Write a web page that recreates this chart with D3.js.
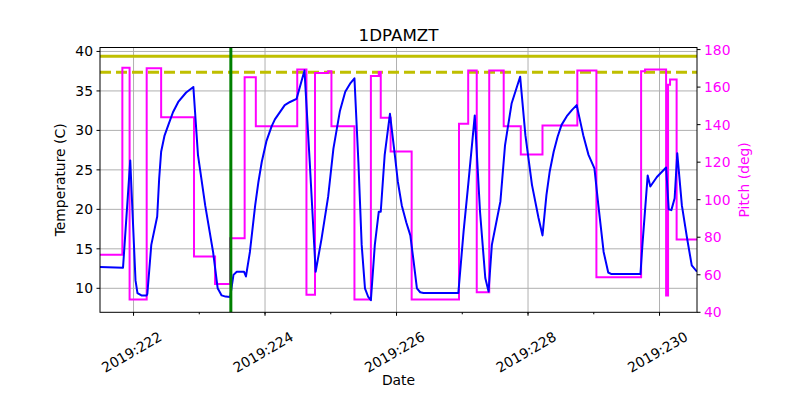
<!DOCTYPE html>
<html>
<head>
<meta charset="utf-8">
<script src="https://cdn.jsdelivr.net/npm/d3@7"></script>
<style>
body{margin:0;background:#fff;}
svg{display:block;font-family:"DejaVu Sans",sans-serif;}
</style>
</head>
<body>
<svg id="chart" width="800" height="400"></svg>
<script>
// ---- data ----
const title = "1DPAMZT";
const tempTime = [221.49,221.84,221.95,222.03,222.06,222.12,222.20,222.21,222.27,222.36,222.39,222.42,222.47,222.53,222.60,222.68,222.80,222.91,
  222.98,223.09,223.21,223.28,223.34,223.40,223.47,223.52,223.57,223.68,223.71,223.77,223.85,223.90,223.95,224.02,224.10,224.15,224.20,224.30,224.38,224.48,224.60,
  224.68,224.77,224.86,224.96,225.04,225.14,225.22,225.30,225.36,225.42,225.47,225.52,225.57,225.61,225.67,225.73,225.76,225.82,225.90,225.98,226.02,226.08,
  226.15,226.21,226.26,226.31,226.36,226.41,226.94,227.02,227.09,227.19,227.27,227.35,227.40,227.45,227.58,227.65,227.75,227.88,227.96,228.06,228.16,
  228.22,228.28,228.33,228.39,228.45,228.51,228.59,228.67,228.74,228.84,228.92,229.01,229.07,229.15,229.22,229.27,229.71,229.74,229.82,229.86,229.96,230.10,230.14,
  230.18,230.23,230.27,230.34,230.42,230.49,230.57];
const tempValue = [12.7,12.6,26.2,11.0,9.4,9.1,9.1,9.3,15.5,19.1,23.9,27.3,29.3,30.7,32.3,33.6,34.8,35.5,
  26.9,20.5,14.6,10.0,9.1,8.95,8.9,11.7,12.1,12.1,11.5,14.6,20.5,23.5,26.0,28.6,30.5,31.4,32.0,33.2,33.6,34.0,37.6,
  26.0,12.1,16.3,21.6,27.7,32.5,34.9,36.0,36.6,26.0,15.5,10.0,8.9,8.5,15.5,19.7,19.7,26.9,32.1,26.5,23.5,20.5,
  18.3,16.7,13.4,10.0,9.5,9.4,9.4,17.2,23.1,31.9,19.7,11.3,9.6,15.5,21.0,28.1,33.4,36.8,29.4,23.1,18.9,
  16.7,21.8,24.8,27.3,29.2,30.7,31.8,32.6,33.2,29.4,26.9,25.2,20.5,14.6,12.0,11.8,11.8,15.5,24.3,22.9,24.1,25.3,20.0,
  19.9,21.4,27.1,20.5,16.3,12.9,12.1];
const pitchTime = [221.49,221.83,221.94,222.20,222.42,222.92,223.24,223.47,223.69,223.86,224.49,224.63,224.76,224.96,225.01,225.36,
  225.61,225.73,225.76,225.91,226.23,226.95,227.09,227.22,227.41,227.63,227.89,228.22,228.75,229.04,229.72,229.78,230.10,230.13,
  230.16,230.26,230.57];
const pitchValue = [70.6,170.3,46.8,170.1,144.0,69.7,55.1,79.5,165.3,139.2,169.4,49.3,167.5,168.5,139.2,46.8,
  165.9,168.0,143.7,125.7,46.8,140.5,168.9,50.7,168.9,139.2,124.1,139.6,168.9,58.7,168.4,169.4,48.9,161.3,
  164.0,78.8,78.8];
const limitSolid = 39.4;
const limitDashed = 37.35;
const markerTime = 223.48;
const xMajorTicks = [222,224,226,228,230];
const xMinorTicks = [222,223,224,225,226,227,228,229,230];
const tempTicks = [10,15,20,25,30,35,40];
const pitchTicks = [40,60,80,100,120,140,160,180];

// ---- layout ----
const L = 100, R = 697, T = 47.5, B = 312.3;
const svg = d3.select("#chart");
const x = d3.scaleLinear().domain([221.49, 230.57]).range([L, R]);
const yT = d3.scaleLinear().domain([6.96, 40.5]).range([B, T]);
const yP = d3.scaleLinear().domain([40, 181.1]).range([B, T]);
const fs = 13.9;

svg.append("defs").append("clipPath").attr("id","clip")
  .append("rect").attr("x",L).attr("y",T).attr("width",R-L).attr("height",B-T);

// grid
const grid = svg.append("g").attr("stroke","#b0b0b0").attr("stroke-width",1);
xMajorTicks.forEach(d => grid.append("line").attr("x1",x(d)).attr("x2",x(d)).attr("y1",T).attr("y2",B));
tempTicks.forEach(d => grid.append("line").attr("x1",L).attr("x2",R).attr("y1",yT(d)).attr("y2",yT(d)));

const plot = svg.append("g").attr("clip-path","url(#clip)");
plot.append("line").attr("x1",L).attr("x2",R).attr("y1",yT(limitSolid)).attr("y2",yT(limitSolid))
  .attr("stroke","#bfbf00").attr("stroke-width",3);
plot.append("line").attr("x1",L).attr("x2",R).attr("y1",yT(limitDashed)).attr("y2",yT(limitDashed))
  .attr("stroke","#bfbf00").attr("stroke-width",3).attr("stroke-dasharray","11,5");

const pitchData = pitchTime.map((t,i)=>[t,pitchValue[i]]);
plot.append("path").datum(pitchData)
  .attr("d", d3.line().x(d=>x(d[0])).y(d=>yP(d[1])).curve(d3.curveStepAfter))
  .attr("fill","none").attr("stroke","#ff00ff").attr("stroke-width",2);

const tempData = tempTime.map((t,i)=>[t,tempValue[i]]);
plot.append("path").datum(tempData)
  .attr("d", d3.line().x(d=>x(d[0])).y(d=>yT(d[1])))
  .attr("fill","none").attr("stroke","#0000ff").attr("stroke-width",2).attr("stroke-linejoin","round");

plot.append("line").attr("x1",x(markerTime)).attr("x2",x(markerTime)).attr("y1",T).attr("y2",B)
  .attr("stroke","#008000").attr("stroke-width",3);

// spines
svg.append("rect").attr("x",L).attr("y",T).attr("width",R-L).attr("height",B-T)
  .attr("fill","none").attr("stroke","#000").attr("stroke-width",1);

// x ticks
const xt = svg.append("g");
xMinorTicks.forEach(d => xt.append("line").attr("x1",x(d)).attr("x2",x(d)).attr("y1",B).attr("y2",B+2).attr("stroke","#000"));
xMajorTicks.forEach(d => {
  xt.append("line").attr("x1",x(d)).attr("x2",x(d)).attr("y1",B).attr("y2",B+3.5).attr("stroke","#000");
  xt.append("text").attr("transform",`translate(${x(d)-2},${352}) rotate(-30)`)
    .attr("text-anchor","middle").attr("dominant-baseline","central")
    .attr("font-size",fs).attr("fill","#000").text("2019:" + d);
});

// left ticks
const yl = svg.append("g");
tempTicks.forEach(d => {
  yl.append("line").attr("x1",L-3.5).attr("x2",L).attr("y1",yT(d)).attr("y2",yT(d)).attr("stroke","#000");
  yl.append("text").attr("x",L-7).attr("y",yT(d)).attr("text-anchor","end").attr("dominant-baseline","central")
    .attr("font-size",fs).attr("fill","#000").text(d);
});
// right ticks
const yr = svg.append("g");
pitchTicks.forEach(d => {
  yr.append("line").attr("x1",R).attr("x2",R+3.5).attr("y1",yP(d)).attr("y2",yP(d)).attr("stroke","#000");
  yr.append("text").attr("x",R+7).attr("y",yP(d)).attr("text-anchor","start").attr("dominant-baseline","central")
    .attr("font-size",fs).attr("fill","#ff00ff").text(d);
});

// labels
svg.append("text").attr("x",(L+R)/2).attr("y",41).attr("text-anchor","middle").attr("font-size",16.7).attr("fill","#000").text(title);
svg.append("text").attr("x",(L+R)/2).attr("y",385).attr("text-anchor","middle").attr("font-size",fs).attr("fill","#000").text("Date");
svg.append("text").attr("transform",`translate(60,${(T+B)/2}) rotate(-90)`).attr("text-anchor","middle")
  .attr("dominant-baseline","central").attr("font-size",fs).attr("fill","#000").text("Temperature (C)");
svg.append("text").attr("transform",`translate(744,${(T+B)/2}) rotate(-90)`).attr("text-anchor","middle")
  .attr("dominant-baseline","central").attr("font-size",fs).attr("fill","#ff00ff").text("Pitch (deg)");
</script>
</body>
</html>
